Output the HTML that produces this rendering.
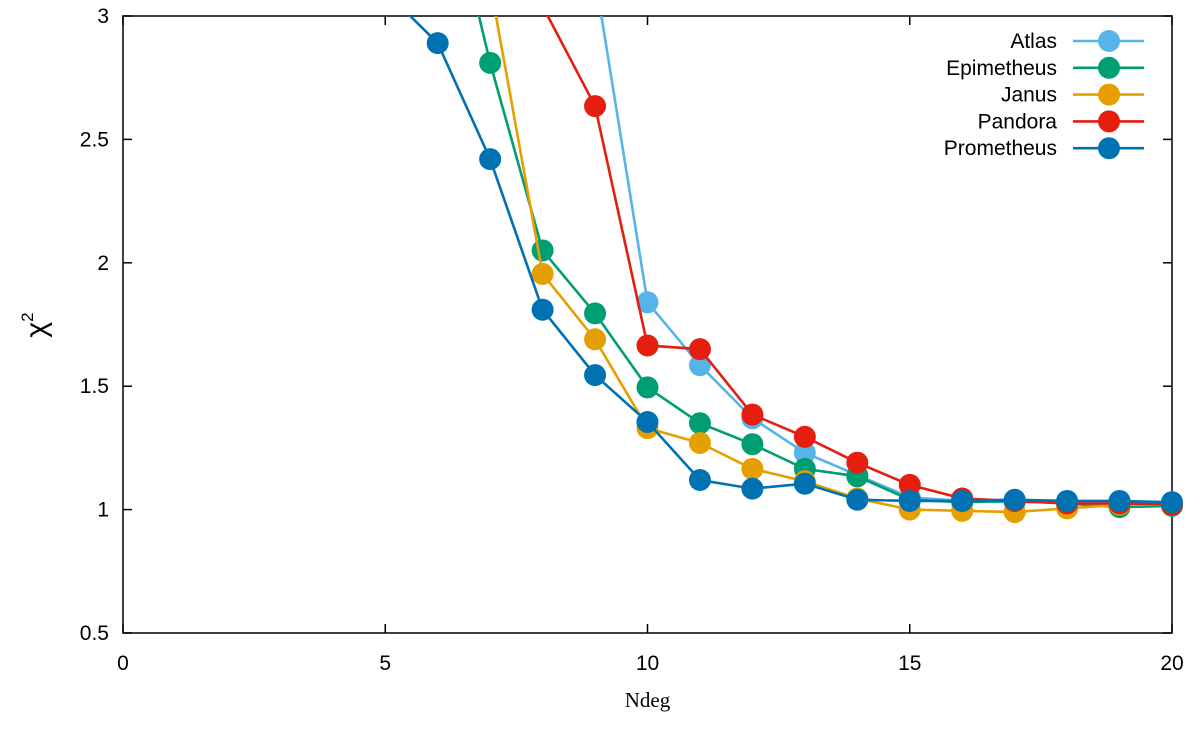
<!DOCTYPE html>
<html><head><meta charset="utf-8"><style>
html,body{margin:0;padding:0;background:#fff;}
svg text{font-family:"Liberation Sans",sans-serif;}
</style></head><body>
<svg id="chart" width="1200" height="726" xmlns="http://www.w3.org/2000/svg">
<defs><clipPath id="clip"><rect x="123" y="16" width="1049" height="617"/></clipPath></defs>
<g id="axes"></g><g id="series"></g><g id="legend"></g>
</svg>
<script>
const xTicks=[0,5,10,15,20];
const yTicks=[0.5,1,1.5,2,2.5,3];
const yTickLabels=["0.5","1","1.5","2","2.5","3"];
const seriesNames=["Atlas","Epimetheus","Janus","Pandora","Prometheus"];
const seriesColors=["#56b4e9","#009e73","#e69f00","#e51e10","#0072b2"];
const atlasX=[9,10,11,12,13,14,15,16,17,18,19,20];
const atlasY=[3.16,1.84,1.585,1.37,1.23,1.14,1.05,1.035,1.03,1.03,1.03,1.03];
const epiX=[6,7,8,9,10,11,12,13,14,15,16,17,18,19,20];
const epiY=[3.7,2.81,2.05,1.795,1.495,1.35,1.265,1.165,1.135,1.04,1.03,1.035,1.025,1.01,1.015];
const janusX=[7,8,9,10,11,12,13,14,15,16,17,18,19,20];
const janusY=[3.13,1.955,1.69,1.33,1.27,1.165,1.115,1.045,1.0,0.995,0.99,1.005,1.02,1.02];
const pandoraX=[8,9,10,11,12,13,14,15,16,17,18,19,20];
const pandoraY=[3.04,2.635,1.665,1.65,1.385,1.295,1.19,1.1,1.045,1.035,1.025,1.025,1.02];
const promX=[5,6,7,8,9,10,11,12,13,14,15,16,17,18,19,20];
const promY=[3.1,2.89,2.42,1.81,1.545,1.355,1.12,1.085,1.105,1.04,1.035,1.035,1.04,1.035,1.035,1.03];
const allX=[atlasX,epiX,janusX,pandoraX,promX];
const allY=[atlasY,epiY,janusY,pandoraY,promY];

const L=123,R=1172,T=16,B=633;
const sx=v=>L+(v-0)/(20-0)*(R-L);
const sy=v=>B-(v-0.5)/(3-0.5)*(B-T);
const NS="http://www.w3.org/2000/svg";
function mk(tag,attrs,parent){const e=document.createElementNS(NS,tag);for(const k in attrs)e.setAttribute(k,attrs[k]);parent.appendChild(e);return e;}
const axes=document.getElementById('axes');
const frame=mk('rect',{x:L,y:T,width:R-L,height:B-T,fill:'none',stroke:'#000','stroke-width':1.5},axes);


xTicks.forEach(v=>{
  const x=sx(v);
  mk('line',{x1:x,y1:B,x2:x,y2:B-9,stroke:'#000','stroke-width':1.5},axes);
  mk('line',{x1:x,y1:T,x2:x,y2:T+9,stroke:'#000','stroke-width':1.5},axes);
  const t=mk('text',{x:x,y:B+37,'text-anchor':'middle','font-size':21},axes);
  t.textContent=String(v);
  
  
});
yTicks.forEach((v,i)=>{
  const y=sy(v);
  mk('line',{x1:L,y1:y,x2:L+9,y2:y,stroke:'#000','stroke-width':1.5},axes);
  mk('line',{x1:R,y1:y,x2:R-9,y2:y,stroke:'#000','stroke-width':1.5},axes);
  const t=mk('text',{x:L-14,y:y+7,'text-anchor':'end','font-size':21},axes);
  t.textContent=yTickLabels[i];
  
  
});
const xt=mk('text',{x:(L+R)/2,y:707,'text-anchor':'middle','font-size':21,style:'font-family:"Liberation Serif",serif'},axes);
xt.textContent='Ndeg';


const yt=mk('text',{x:0,y:0,'text-anchor':'middle','font-size':30,transform:'translate(46,325) rotate(-90)'},axes);
yt.innerHTML='χ<tspan font-size="17" dy="-13">2</tspan>';



const sg=document.getElementById('series');
allX.forEach((xs,si)=>{
  const g=mk('g',{},sg);
  
  
  const pts=xs.map((x,i)=>sx(x)+','+sy(allY[si][i])).join(' ');
  mk('polyline',{points:pts,fill:'none',stroke:seriesColors[si],'stroke-width':2.6,'clip-path':'url(#clip)'},g);
  xs.forEach((x,i)=>{
    const yv=allY[si][i];
    if(yv>3)return;
    const c=mk('circle',{cx:sx(x),cy:sy(yv),r:11,fill:seriesColors[si]},g);
    
    
  });
});
const lg=document.getElementById('legend');
seriesNames.forEach((n,i)=>{
  const y=41+i*26.8;
  const g=mk('g',{},lg);
  
  
  const t=mk('text',{x:1057,y:y+7,'text-anchor':'end','font-size':21},g);
  t.textContent=n;
  mk('line',{x1:1073,y1:y,x2:1144,y2:y,stroke:seriesColors[i],'stroke-width':2.6},g);
  mk('circle',{cx:1109,cy:y,r:11,fill:seriesColors[i]},g);
});
</script>
</body></html>
